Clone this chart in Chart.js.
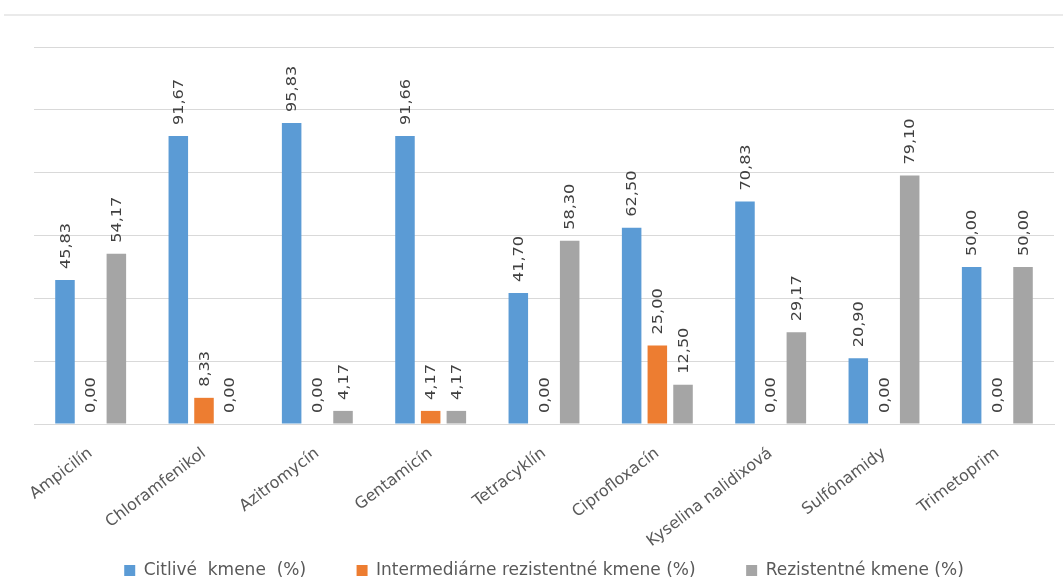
<!DOCTYPE html>
<html>
<head>
<meta charset="utf-8">
<script src="https://cdn.jsdelivr.net/npm/chart.js@4/dist/chart.umd.min.js"></script>
<style>
  html, body { margin: 0; padding: 0; background: #ffffff; }
  #wrap { width: 1063px; height: 578px; position: relative; }
</style>
</head>
<body>
<div id="wrap"><canvas id="antibiotikaChart"></canvas></div>
<script>
const categories = ['Ampicilín', 'Chloramfenikol', 'Azitromycín', 'Gentamicín', 'Tetracyklín',
    'Ciprofloxacín', 'Kyselina nalidixová', 'Sulfónamidy', 'Trimetoprim'];
const seriesNames = ['Citlivé  kmene  (%)', 'Intermediárne rezistentné kmene (%)', 'Rezistentné kmene (%)'];
const citlive = [45.83, 91.67, 95.83, 91.66, 41.70, 62.50, 70.83, 20.90, 50.00];
const intermediarne = [0, 8.33, 0, 4.17, 0, 25.00, 0, 0, 0];
const rezistentne = [54.17, 0, 4.17, 4.17, 58.30, 12.50, 29.17, 79.10, 50.00];
const colors = ['#5b9bd5', '#ed7d31', '#a5a5a5'];

const fontFamily = "'DejaVu Sans', sans-serif";

// vertical value labels above each bar
const valueLabels = {
    id: 'valueLabels',
    afterDatasetsDraw(chart) {
        const ctx = chart.ctx;
        ctx.save();
        ctx.fillStyle = '#404040';
        ctx.font = '14px ' + fontFamily;
        ctx.textAlign = 'left';
        ctx.textBaseline = 'middle';
        chart.data.datasets.forEach((ds, i) => {
            chart.getDatasetMeta(i).data.forEach((bar, j) => {
                const txt = ds.data[j].toFixed(2).replace('.', ',');
                ctx.save();
                ctx.translate(bar.x + 1, bar.y - 11);
                ctx.rotate(-Math.PI / 2);
                ctx.scale(1.15, 1);
                ctx.fillText(txt, 0, 0);
                ctx.restore();
            });
        });
        ctx.restore();
    }
};

// thin rule at the very top of the picture
const topRule = {
    id: 'topRule',
    beforeDraw(chart) {
        const ctx = chart.ctx;
        ctx.save();
        ctx.strokeStyle = '#e3e3e3';
        ctx.lineWidth = 1.5;
        ctx.beginPath();
        ctx.moveTo(4, 15);
        ctx.lineTo(1063, 15);
        ctx.stroke();
        ctx.restore();
    }
};

new Chart(document.getElementById('antibiotikaChart'), {
    type: 'bar',
    data: {
        labels: categories,
        datasets: [
            { label: seriesNames[0], data: citlive, backgroundColor: colors[0] },
            { label: seriesNames[1], data: intermediarne, backgroundColor: colors[1] },
            { label: seriesNames[2], data: rezistentne, backgroundColor: colors[2] }
        ]
    },
    options: {
        responsive: true,
        maintainAspectRatio: false,
        animation: false,
        datasets: {
            bar: { categoryPercentage: 0.68, barPercentage: 0.76 }
        },
        layout: { padding: { left: 34, right: 9, top: 47, bottom: -11 } },
        scales: {
            x: {
                grid: { display: false },
                border: { color: '#d9d9d9' },
                ticks: {
                    color: '#595959',
                    font: { family: fontFamily, size: 16 },
                    maxRotation: 37,
                    minRotation: 37,
                    padding: 12,
                    autoSkip: false
                },
                afterFit(scale) { scale.height = 130; }
            },
            y: {
                min: 0,
                max: 120,
                ticks: { display: false, stepSize: 20 },
                border: { display: false },
                grid: { color: '#d9d9d9', drawTicks: false },
                afterFit(scale) { scale.width = 0; }
            }
        },
        plugins: {
            tooltip: { enabled: false },
            legend: {
                position: 'bottom',
                labels: {
                    color: '#595959',
                    font: { family: fontFamily, size: 17 },
                    boxWidth: 11,
                    boxHeight: 11,
                    padding: 8,
                    // wider gap between items without growing the legend's height
                    generateLabels(chart) {
                        const items = Chart.defaults.plugins.legend.labels.generateLabels(chart);
                        items.forEach((it, i) => {
                            if (i < items.length - 1) it.text += '\u2003\u2003\u2002';
                        });
                        return items;
                    }
                }
            }
        }
    },
    plugins: [valueLabels, topRule]
});
</script>
</body>
</html>
